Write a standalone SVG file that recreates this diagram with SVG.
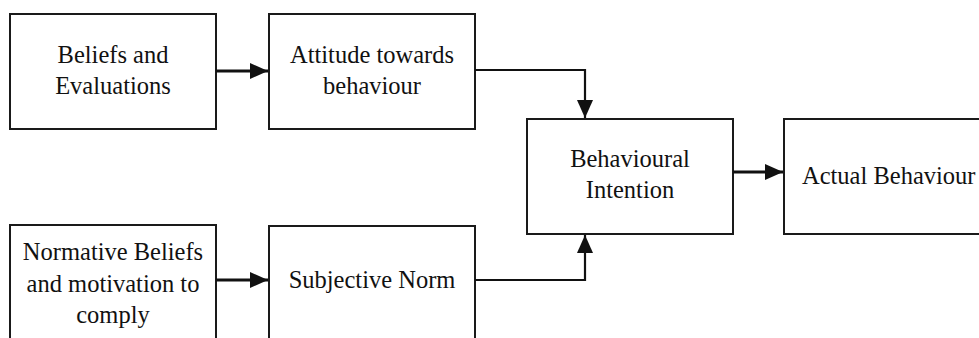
<svg xmlns="http://www.w3.org/2000/svg" width="979" height="338" viewBox="0 0 979 338">
  <style>
    .box { fill: #ffffff; stroke: #1a1a1a; stroke-width: 2; }
    .lbl { font-family: 'Liberation Serif', serif; font-size: 24.5px; fill: #111111; text-anchor: middle; }
    .wire { fill: none; stroke: #111111; stroke-width: 2.2; }
    .thick { stroke-width: 3; }
  </style>
  <defs>
    <marker id="head" markerUnits="userSpaceOnUse" markerWidth="18" markerHeight="16" refX="18" refY="8" orient="auto">
      <path d="M0,0 L18,8 L0,16 Z" fill="#111111"/>
    </marker>
  </defs>
  <rect width="979" height="338" fill="#ffffff"/>

  <g id="beliefs">
    <rect class="box" x="10" y="14" width="206" height="115"/>
    <text class="lbl" x="113" y="63" font-family="Liberation Serif">Beliefs and</text>
    <text class="lbl" x="113" y="94" font-family="Liberation Serif">Evaluations</text>
  </g>
  <g id="attitude">
    <rect class="box" x="269" y="14" width="206" height="115"/>
    <text class="lbl" x="372" y="63" font-family="Liberation Serif">Attitude towards</text>
    <text class="lbl" x="372" y="94" font-family="Liberation Serif">behaviour</text>
  </g>
  <g id="intention">
    <rect class="box" x="527" y="119" width="206" height="115"/>
    <text class="lbl" x="630" y="167" font-family="Liberation Serif">Behavioural</text>
    <text class="lbl" x="630" y="198" font-family="Liberation Serif">Intention</text>
  </g>
  <g id="actual">
    <rect class="box" x="784" y="119" width="210" height="115"/>
    <text class="lbl" x="802" y="184" font-family="Liberation Serif" style="text-anchor:start">Actual Behaviour</text>
  </g>
  <g id="normative">
    <rect class="box" x="10" y="225" width="206" height="125"/>
    <text class="lbl" x="113" y="260" font-family="Liberation Serif">Normative Beliefs</text>
    <text class="lbl" x="113" y="292" font-family="Liberation Serif">and motivation to</text>
    <text class="lbl" x="113" y="323" font-family="Liberation Serif">comply</text>
  </g>
  <g id="subjective">
    <rect class="box" x="269" y="226" width="206" height="125"/>
    <text class="lbl" x="372" y="288" font-family="Liberation Serif">Subjective Norm</text>
  </g>

  <g id="connectors">
    <path class="wire thick" d="M216,71 L268,71" marker-end="url(#head)"/>
    <path class="wire thick" d="M216,280 L268,280" marker-end="url(#head)"/>
    <path class="wire" d="M475,70 L585,70 L585,118" marker-end="url(#head)"/>
    <path class="wire" d="M475,280 L585,280 L585,235" marker-end="url(#head)"/>
    <path class="wire thick" d="M733,172 L783,172" marker-end="url(#head)"/>
  </g>
</svg>
